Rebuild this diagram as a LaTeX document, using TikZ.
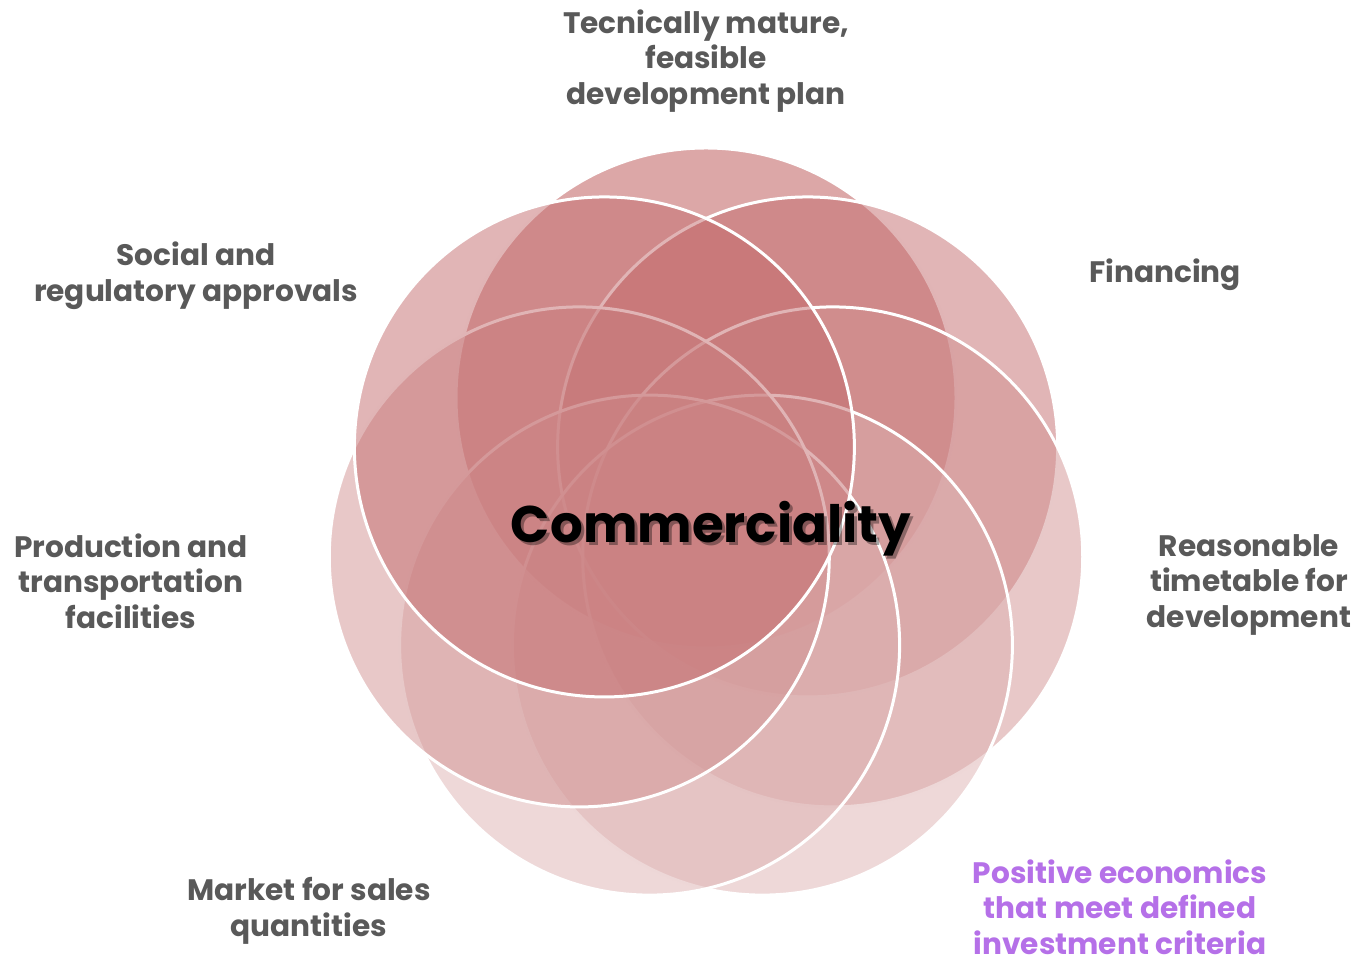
\documentclass[tikz,border=0pt]{standalone}
\usepackage{fontspec}
\setmainfont{Poppins}
\usetikzlibrary{calc}
\definecolor{cA}{RGB}{185,80,80}
\definecolor{cB}{RGB}{195,107,109}
\definecolor{cC}{RGB}{209,146,146}
\definecolor{cD}{RGB}{221,177,177}
\definecolor{lblgray}{RGB}{89,89,89}
\definecolor{lblpurple}{RGB}{181,112,232}
\tikzset{
  venn/.style={circle, inner sep=0pt, minimum size=500pt, fill=#1, fill opacity=0.5, draw=white, line width=3pt},
  lbl/.style={align=center, text=lblgray, font=\fontsize{29.6}{35.5}\selectfont\bfseries, inner sep=0pt},
  bigword/.style={font=\fontsize{51.5}{56}\selectfont\bfseries, inner sep=0pt},
}
\begin{document}
\begin{tikzpicture}[x=1pt,y=1pt]
\useasboundingbox (0,0) rectangle (1359,960);
\coordinate (o) at (706,432);
\node[venn=cA] (c1) at ($(o)+(90:130)$) {};
\node[venn=cB] (c2) at ($(o)+(38.571:130)$) {};
\node[venn=cC] (c3) at ($(o)+(-12.857:130)$) {};
\node[venn=cD] (c4) at ($(o)+(-64.286:130)$) {};
\node[venn=cD] (c5) at ($(o)+(-115.714:130)$) {};
\node[venn=cC] (c6) at ($(o)+(-167.143:130)$) {};
\node[venn=cB] (c7) at ($(o)+(141.429:130)$) {};
\node[bigword, text=black, text opacity=0.35] (shadow) at (714,428) {Commerciality};
\node[bigword, text=black] (center) at (711,431) {Commerciality};
\node[lbl] (t1) at (706,899) {Tecnically mature,\\feasible\\development plan};
\node[lbl] (t2) at (1165,685) {Financing};
\node[lbl] (t3) at (1249,375.5) {Reasonable\\timetable for\\development};
\node[lbl, text=lblpurple] (t4) at (1120,53) {Positive economics\\that meet defined\\investment criteria};
\node[lbl] (t5) at (309,49) {Market for sales\\quantities};
\node[lbl] (t6) at (131,379) {Production and\\transportation\\facilities};
\node[lbl] (t7) at (196,684.5) {Social and\\regulatory approvals};
\end{tikzpicture}
\end{document}
